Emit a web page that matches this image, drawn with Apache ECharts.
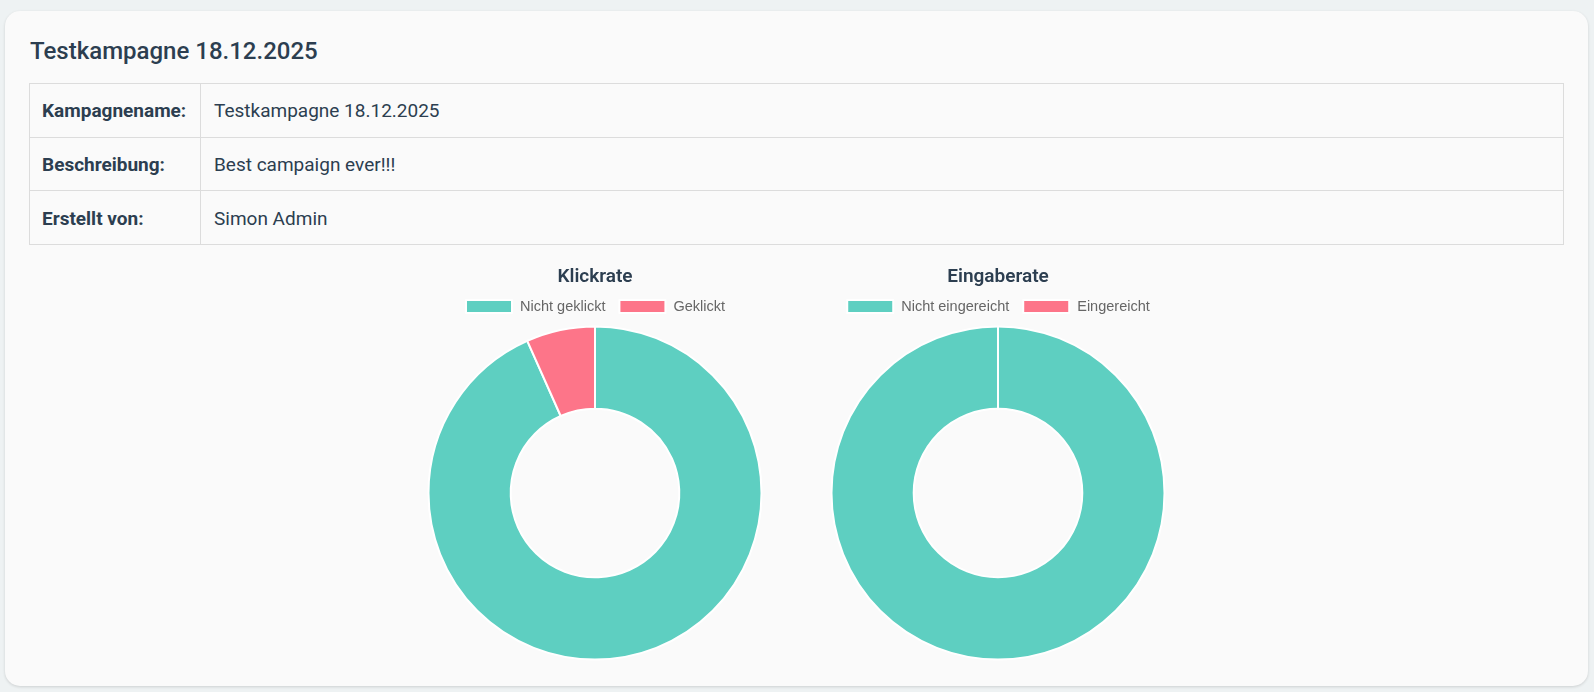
<!DOCTYPE html>
<html>
<head>
<meta charset="utf-8">
<title>Testkampagne 18.12.2025</title>
<script src="https://cdn.jsdelivr.net/npm/echarts@6/dist/echarts.min.js"></script>
<style type="text/css">
  html, body { margin: 0; padding: 0; }
  body { width: 1594px; height: 692px; background: #eef2f3; font-family: Roboto, "Noto Sans", sans-serif; color: #2c3e50; position: relative; overflow: hidden; }
  .card { position: absolute; left: 5px; top: 11px; width: 1583px; height: 675px; background: #fafafa; border-radius: 15px; box-shadow: 0 1px 3px rgba(0,0,0,0.14); }
  h1 { position: absolute; left: 30px; top: 37px; margin: 0; font-size: 24px; line-height: 28px; font-weight: 500; color: #2c3e50; }
  table { position: absolute; left: 29px; top: 83px; width: 1535px; border-collapse: collapse; font-size: 19px; }
  td { border: 1px solid #dcdcdc; height: 51.7px; padding: 1px 13px 0 13px; }
  td.lbl { width: 145px; font-weight: 700; padding-left: 12px; }
  .chart { position: absolute; top: 250px; width: 400px; height: 436px; }
</style>
</head>
<body>
  <div class="card"></div>
  <h1 id="title"></h1>
  <table id="info"></table>
  <div id="klick" class="chart" style="left:395px"></div>
  <div id="eingabe" class="chart" style="left:798px"></div>
<script>
// Kampagnendaten
var campaignTitle = 'Testkampagne 18.12.2025';
var infoLabels = ['Kampagnename:', 'Beschreibung:', 'Erstellt von:'];
var infoValues = ['Testkampagne 18.12.2025', 'Best campaign ever!!!', 'Simon Admin'];

var klickLabels = ['Nicht geklickt', 'Geklickt'];
var klickValues = [14, 1];
var eingabeLabels = ['Nicht eingereicht', 'Eingereicht'];
var eingabeValues = [15, 0];

var colors = ['#5ecfc1', '#fd7589'];

document.getElementById('title').textContent = campaignTitle;
var tbl = document.getElementById('info');
for (var i = 0; i < infoLabels.length; i++) {
  var tr = document.createElement('tr');
  var a = document.createElement('td'); a.className = 'lbl'; a.textContent = infoLabels[i];
  var b = document.createElement('td'); b.textContent = infoValues[i];
  tr.appendChild(a); tr.appendChild(b); tbl.appendChild(tr);
}

function donut(id, title, labels, values) {
  var chart = echarts.init(document.getElementById(id));
  chart.setOption({
    animation: false,
    color: colors,
    title: {
      text: title, left: 'center', top: 13,
      textStyle: { fontFamily: 'Roboto', fontSize: 19, fontWeight: 600, color: '#2c3e50' }
    },
    legend: {
      top: 44, left: 'center', icon: 'rect', itemWidth: 46, itemHeight: 13, itemGap: 13,
      selectedMode: false,
      data: labels,
      textStyle: { fontFamily: 'Liberation Sans, Arial, sans-serif', fontSize: 14.5, color: '#666', padding: [0, 0, 0, 3] }
    },
    series: [{
      type: 'pie',
      center: ['50%', 243],
      radius: [84.3, 166.5],
      startAngle: 90,
      clockwise: true,
      label: { show: false },
      labelLine: { show: false },
      emphasis: { disabled: true },
      itemStyle: { borderColor: '#fff', borderWidth: 2 },
      data: labels.map(function (n, k) { return { name: n, value: values[k] }; })
    }]
  });
}

donut('klick', 'Klickrate', klickLabels, klickValues);
donut('eingabe', 'Eingaberate', eingabeLabels, eingabeValues);
</script>
</body>
</html>
